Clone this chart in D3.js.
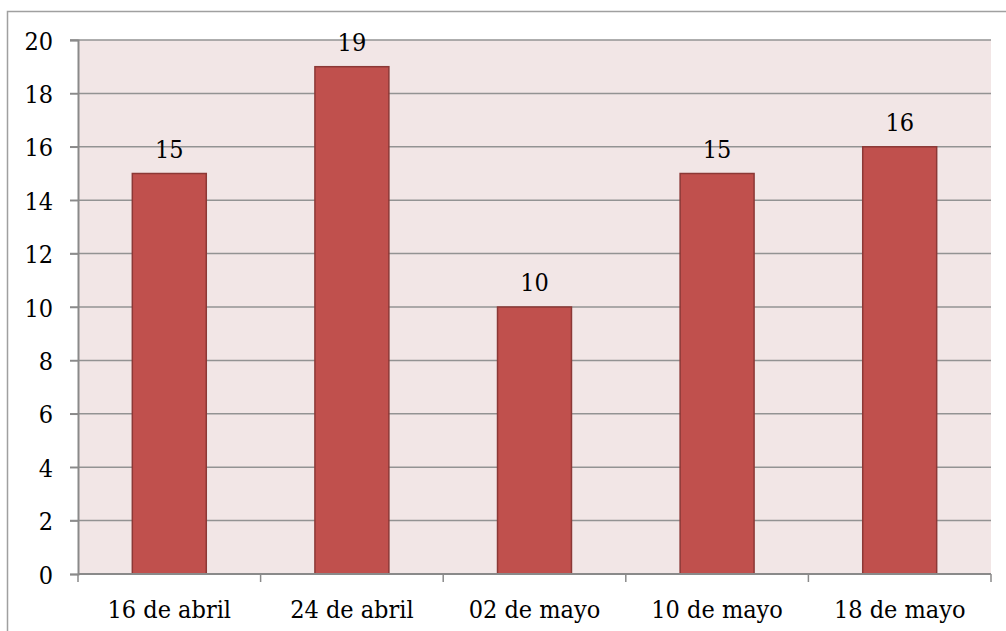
<!DOCTYPE html>
<html>
<head>
<meta charset="utf-8">
<script src="https://cdn.jsdelivr.net/npm/d3@7"></script>
<style>
  html, body { margin: 0; padding: 0; background: #ffffff; }
  svg { display: block; }
  text { font-family: "DejaVu Serif Condensed", "DejaVu Serif", serif; font-stretch: condensed; fill: #000; }
</style>
</head>
<body>
<svg id="chart" width="1006" height="631"></svg>
<script>
const categories = ["16 de abril", "24 de abril", "02 de mayo", "10 de mayo", "18 de mayo"];
const values = [15, 19, 10, 15, 16];
const yTicks = [0, 2, 4, 6, 8, 10, 12, 14, 16, 18, 20];

const FS = 25;
const svg = d3.select("#chart");
const W = 1006, H = 631;
const m = { left: 78, right: 15, top: 40, bottom: 57 };
const x0 = m.left, x1 = W - m.right, y0 = H - m.bottom, y1 = m.top;

// outer chart border
svg.append("rect")
  .attr("x", 7.5).attr("y", 11.5)
  .attr("width", W + 10).attr("height", H + 10)
  .attr("fill", "#fff").attr("stroke", "#a0a0a0").attr("stroke-width", 1.5);

const x = d3.scaleBand().domain(categories).range([x0, x1]).paddingInner(0.595).paddingOuter(0.2975);
const xb = d3.scaleBand().domain(categories).range([x0, x1]);
const y = d3.scaleLinear().domain([0, 20]).range([y0, y1]);

// plot background
svg.append("rect")
  .attr("x", x0).attr("y", y1)
  .attr("width", x1 - x0).attr("height", y0 - y1)
  .attr("fill", "#f2e6e6");

// gridlines
svg.append("g").selectAll("line").data(yTicks.filter(d => d > 0)).join("line")
  .attr("x1", x0 - 8).attr("x2", x1)
  .attr("y1", d => y(d)).attr("y2", d => y(d))
  .attr("stroke", "#939393").attr("stroke-width", 1.5);

// bars
svg.append("g").selectAll("rect").data(values).join("rect")
  .attr("x", (d, i) => x(categories[i]))
  .attr("y", d => y(d))
  .attr("width", x.bandwidth())
  .attr("height", d => y0 - y(d))
  .attr("fill", "#c0504d")
  .attr("stroke", "#8c3836").attr("stroke-width", 1.5);

// data labels
svg.append("g").selectAll("text").data(values).join("text")
  .attr("x", (d, i) => x(categories[i]) + x.bandwidth() / 2)
  .attr("y", d => y(d) - 16)
  .attr("text-anchor", "middle")
  .attr("font-size", FS)
  .text(d => d);

// y axis
const yAxis = d3.axisLeft(y).tickValues(yTicks).tickSize(8).tickPadding(17).tickFormat(d3.format("d"));
const gy = svg.append("g").attr("transform", `translate(${x0},0)`).call(yAxis);
gy.attr("font-family", null).attr("font-size", null);
gy.select(".domain").attr("stroke", "#8a8a8a").attr("stroke-width", 2);
gy.selectAll(".tick line").attr("stroke", "#8a8a8a").attr("stroke-width", 1.5);
gy.selectAll(".tick text").attr("font-size", FS).attr("fill", "#000").attr("dy", "0.36em");

// x axis
const gx = svg.append("g").attr("transform", `translate(0,${y0})`);
gx.append("line").attr("x1", x0).attr("x2", x1).attr("y1", 0).attr("y2", 0)
  .attr("stroke", "#8a8a8a").attr("stroke-width", 2);
const bounds = categories.map(c => xb(c)).concat([x1]);
gx.selectAll("line.tk").data(bounds).join("line").attr("class", "tk")
  .attr("x1", d => d).attr("x2", d => d).attr("y1", 0).attr("y2", 8)
  .attr("stroke", "#8a8a8a").attr("stroke-width", 1.5);
gx.selectAll("text").data(categories).join("text")
  .attr("x", d => xb(d) + xb.bandwidth() / 2)
  .attr("y", 44)
  .attr("text-anchor", "middle")
  .attr("font-size", FS)
  .text(d => d);
</script>
</body>
</html>
